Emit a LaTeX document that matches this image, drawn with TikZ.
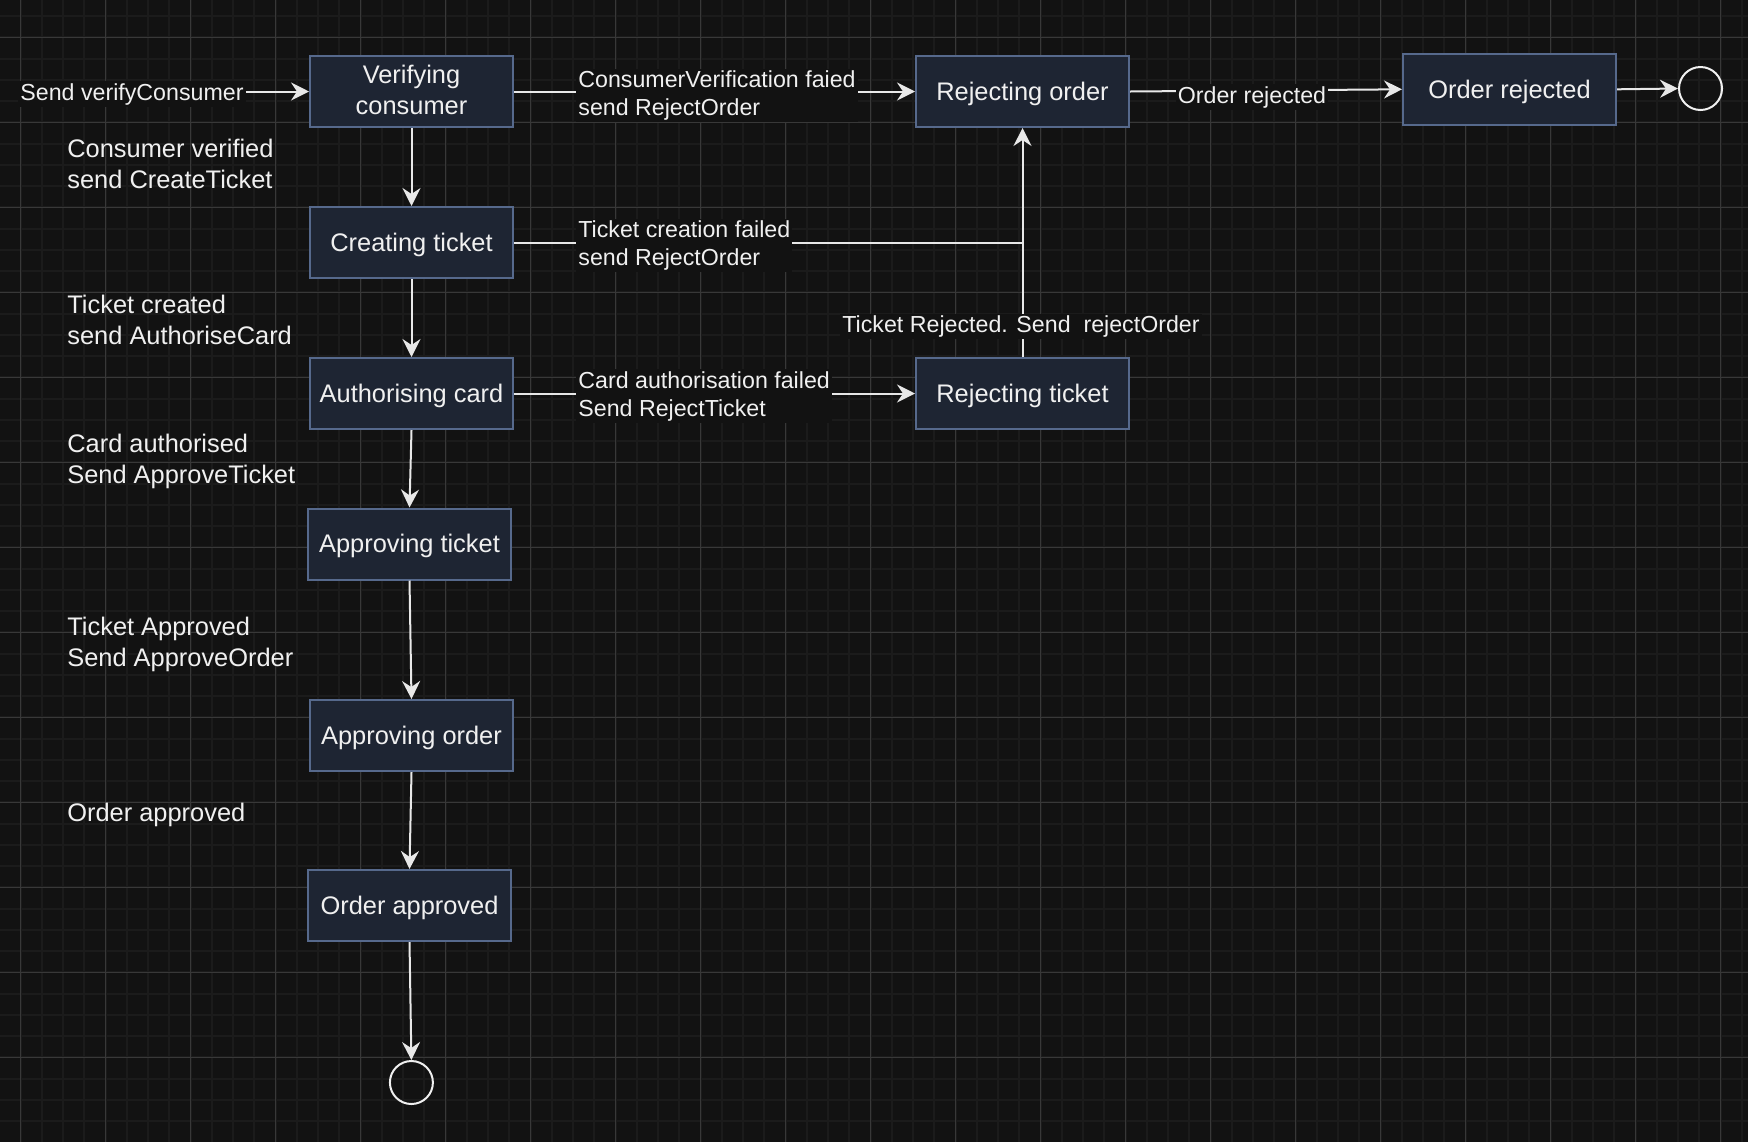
\documentclass[tikz,border=0pt]{standalone}
\usepackage{fontspec}
\setmainfont{Liberation Sans}
\usetikzlibrary{arrows.meta}
\definecolor{bg}{HTML}{121212}
\definecolor{gminor}{HTML}{1B1B1B}
\definecolor{gmajor}{HTML}{383838}
\definecolor{boxf}{HTML}{1E2533}
\definecolor{boxc}{HTML}{56698C}
\definecolor{ink}{HTML}{F0F0F0}
\definecolor{wirec}{HTML}{E8E8E8}
\begin{document}
\begin{tikzpicture}[x=0.5pt,y=-0.5pt,
  state/.style={draw=boxc, fill=boxf, line width=1pt, text=ink, minimum width=101.5pt, minimum height=35.5pt, inner sep=0pt, align=center, text depth=0.5pt, font=\fontsize{12.7}{15.5}\selectfont},
  wide/.style={state, minimum width=106.5pt},
  final/.style={circle, draw=ink, line width=1pt, minimum size=21.5pt, inner sep=0pt},
  elabel/.style={fill=bg, text=ink, inner sep=1pt, align=left, font=\fontsize{11.6}{14}\selectfont},
  flabel/.style={text=ink, inner sep=0pt, align=left, anchor=west, font=\fontsize{12.7}{15.5}\selectfont},
  flow/.style={draw=wirec, line width=1pt, -{Stealth[length=9pt,width=9pt,inset=3pt]}},
  plain/.style={draw=wirec, line width=1pt}
]
\fill[bg] (0,0) rectangle (1748,1142);
\useasboundingbox (0,0) rectangle (1748,1142);
\foreach \j in {-1,...,81} \draw[gminor, line width=1pt] ({20.7+21.25*\j},0) -- ++(0,1142);
\foreach \j in {-1,...,51} \draw[gminor, line width=1pt] (0,{37.3+21.25*\j}) -- ++(1748,0);
\foreach \k in {0,...,20} \draw[gmajor, line width=0.6pt] ({20.7+85*\k},0) -- ++(0,1142);
\foreach \k in {0,...,12} \draw[gmajor, line width=0.6pt] (0,{37.3+85*\k}) -- ++(1748,0);

% states
\node[state, text depth=2.2pt] (vc) at (411.5,91.5) {Verifying\\consumer};
\node[state] (ct) at (411.5,242.5) {Creating ticket};
\node[state] (ac) at (411.5,393.5) {Authorising card};
\node[state] (at) at (409.5,544) {Approving ticket};
\node[state] (ao) at (411.5,735.5) {Approving order};
\node[state] (oa) at (409.5,905.5) {Order approved};
\node[wide] (ro) at (1022.5,91.5) {Rejecting order};
\node[wide] (rt) at (1022.5,393.5) {Rejecting ticket};
\node[wide] (or) at (1509.5,89.3) {Order rejected};
\node[final] (end1) at (411.4,1082.5) {};
\node[final] (end2) at (1700.5,88.5) {};

% connectors
\node[elabel] (lsv) at (132,94) {Send verifyConsumer};
\draw[flow] (lsv.east |- vc.west) -- (vc.west);
\draw[flow] (vc) -- (ct);
\draw[flow] (ct) -- (ac);
\draw[flow] (ac.south) -- (at.north);
\draw[flow] (at.south) -- (ao.north);
\draw[flow] (ao.south) -- (oa.north);
\draw[flow] (oa.south) -- (end1.north);
\draw[flow] (vc.east) -- (ro.west);
\coordinate (j) at (ro.south |- ct.east);
\draw[plain] (ct.east) -- (j);
\draw[flow] (ac.east) -- (rt.west);
\draw[flow] (rt.north) -- (ro.south);
\draw[flow] (ro.east) -- (or.west);
\draw[flow] (or.east) -- (end2.west);

% edge labels
\node[elabel, anchor=west] (l1) at (576,95.5) {ConsumerVerification faied\\send RejectOrder};
\node[elabel, anchor=west] (l2) at (576,245.5) {Ticket creation failed\\send RejectOrder};
\node[elabel, anchor=west] (l3) at (576,396) {Card authorisation failed\\Send RejectTicket};
\node[elabel] (l4) at (1021,326.5) {Ticket Rejected. Send\ \ rejectOrder};
\node[elabel] (l5) at (1252,97) {Order rejected};

% free labels
\node[flabel] (f1) at (67,163.5) {Consumer verified\\send CreateTicket};
\node[flabel] (f2) at (67,320) {Ticket created\\send AuthoriseCard};
\node[flabel] (f3) at (67,461.7) {Card authorised\\Send ApproveTicket};
\node[flabel] (f4) at (67,644.5) {Ticket Approved\\Send ApproveOrder};
\node[flabel] (f5) at (67,814.5) {Order approved};
\end{tikzpicture}
\end{document}
